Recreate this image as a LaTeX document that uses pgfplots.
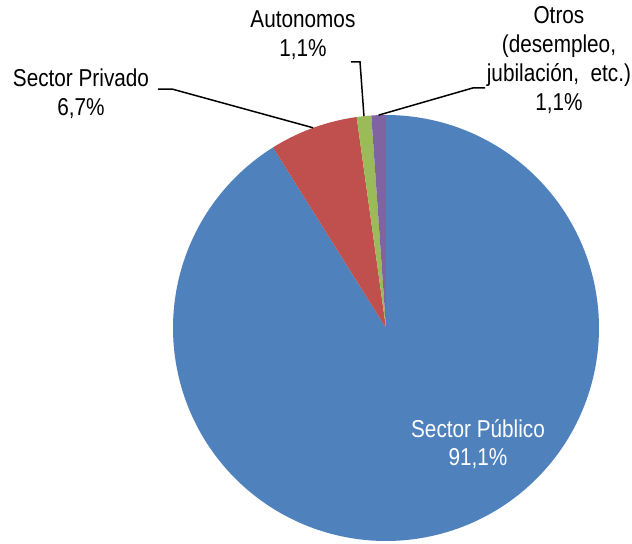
\documentclass[border=0pt]{standalone}
\usepackage{pgfplots}
\pgfplotsset{compat=1.18}
\usepackage{fontspec}
\setmainfont{Liberation Sans}[FakeStretch=0.85]
\definecolor{cBlue}{HTML}{4F81BD}
\definecolor{cRed}{HTML}{C0504D}
\definecolor{cGreen}{HTML}{9BBB59}
\definecolor{cPurple}{HTML}{8064A2}
% shares in percent
\def\vOtros{1.1}
\def\vAuto{1.1}
\def\vPriv{6.7}
\def\vPub{91.1}
\pgfmathsetmacro\aZero{90}
\pgfmathsetmacro\aOne{\aZero+3.6*\vOtros}
\pgfmathsetmacro\aTwo{\aOne+3.6*\vAuto}
\pgfmathsetmacro\aThree{\aTwo+3.6*\vPriv}
\pgfmathsetmacro\aFour{\aThree+3.6*\vPub}
\pgfmathsetmacro\mOne{(\aZero+\aOne)/2}
\pgfmathsetmacro\mTwo{(\aOne+\aTwo)/2}
\pgfmathsetmacro\mThree{(\aTwo+\aThree)/2}
\begin{document}
\fontsize{24.5}{29}\selectfont
\begin{tikzpicture}
\path[use as bounding box] (0,0) rectangle (632bp,544bp);
\begin{axis}[
  at={(173bp,3bp)}, anchor=south west,
  width=426bp, height=426bp, scale only axis,
  xmin=-1, xmax=1, ymin=-1, ymax=1,
  hide axis, clip=false,
]
\addplot[draw=none, fill=cBlue, domain=\aThree:\aFour, samples=240] ({cos(x)},{sin(x)}) -- (axis cs:0,0) -- cycle;
\addplot[draw=none, fill=cRed, domain=\aTwo:\aThree, samples=30] ({cos(x)},{sin(x)}) -- (axis cs:0,0) -- cycle;
\addplot[draw=none, fill=cGreen, domain=\aOne:\aTwo, samples=10] ({cos(x)},{sin(x)}) -- (axis cs:0,0) -- cycle;
\addplot[draw=none, fill=cPurple, domain=\aZero:\aOne, samples=10] ({cos(x)},{sin(x)}) -- (axis cs:0,0) -- cycle;
% leader lines
\draw[black, line width=1.5pt] (axis cs:-1.070,1.122) -- (axis cs:-1.005,1.122) -- (axis cs:{cos(\mThree)},{sin(\mThree)});
\draw[black, line width=1.5pt] (axis cs:-0.164,1.249) -- (axis cs:-0.122,1.249) -- (axis cs:{cos(\mTwo)},{sin(\mTwo)});
\draw[black, line width=1.5pt] (axis cs:0.465,1.127) -- (axis cs:0.408,1.127) -- (axis cs:{cos(\mOne)},{sin(\mOne)});
% labels
\node[align=center, inner sep=0pt] at (axis cs:-1.432,1.099) {Sector Privado\\6,7\%};
\node[align=center, inner sep=0pt] at (axis cs:-0.390,1.376) {Autonomos\\1,1\%};
\node[align=center, inner sep=0pt] at (axis cs:0.812,1.258) {Otros\\(desempleo,\\jubilación,\ \ etc.)\\1,1\%};
\node[align=center, inner sep=0pt, text=white] at (axis cs:0.432,-0.545) {Sector Público\\91,1\%};
\end{axis}
\end{tikzpicture}
\end{document}
